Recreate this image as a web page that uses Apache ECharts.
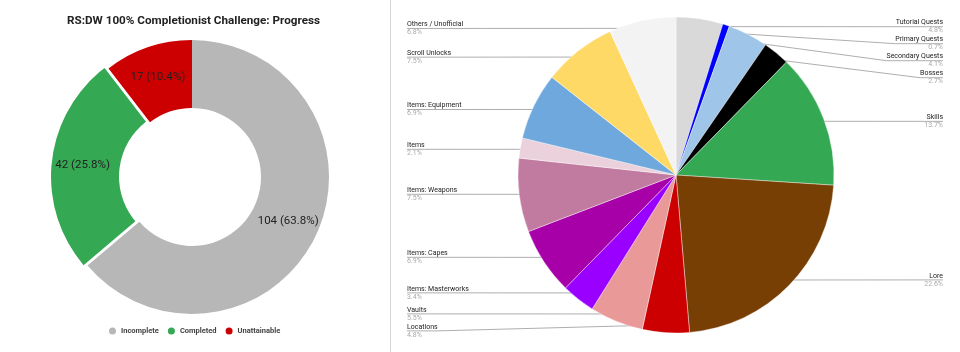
<!DOCTYPE html>
<html>
<head>
<meta charset="utf-8">
<script src="https://cdn.jsdelivr.net/npm/echarts@6/dist/echarts.min.js"></script>
<style>
  html, body { margin: 0; padding: 0; background: #fff; }
  #chart { width: 960px; height: 352px; }
</style>
</head>
<body>
<div id="chart"></div>
<script>
// left donut: overall progress
var progressNames = ['Incomplete', 'Completed', 'Unattainable'];
var progressValues = [104, 42, 17];
var progressColors = ['#b7b7b7', '#34a853', '#cc0000'];

// right pie: breakdown by category (counts, total 146)
var catNames = ['Tutorial Quests', 'Primary Quests', 'Secondary Quests', 'Bosses', 'Skills', 'Lore',
    'Locations', 'Vaults', 'Items: Masterworks', 'Items: Capes', 'Items: Weapons', 'Items',
    'Items: Equipment', 'Scroll Unlocks', 'Others / Unofficial'];
var catValues = [7, 1, 6, 4, 20, 33, 7, 8, 5, 10, 11, 3, 10, 11, 10];
var catColors = ['#d9d9d9', '#0000ff', '#9fc5e8', '#000000', '#34a853', '#783f04',
    '#cc0000', '#ea9999', '#9900ff', '#a800a8', '#c27ba0', '#ead1dc',
    '#6fa8dc', '#ffd966', '#f3f3f3'];

var chart = echarts.init(document.getElementById('chart'));

var pieCx = 676, pieCy = 175;

var progressData = [];
for (var i = 0; i < progressNames.length; i++) {
    progressData.push({
        name: progressNames[i],
        value: progressValues[i],
        selected: progressNames[i] == 'Completed',
        itemStyle: { color: progressColors[i] }
    });
}

var catData = [];
for (var j = 0; j < catNames.length; j++) {
    catData.push({
        name: catNames[j],
        value: catValues[j],
        itemStyle: { color: catColors[j] }
    });
}

var option = {
    backgroundColor: '#fff',
    animation: false,
    title: {
        text: 'RS:DW 100% Completionist Challenge: Progress',
        left: 62,
        top: 10,
        textStyle: {
            fontFamily: 'Roboto',
            fontSize: 11.7,
            fontWeight: 'bold',
            color: '#222'
        }
    },
    legend: {
        data: progressNames,
        left: 104,
        top: 322,
        icon: 'circle',
        itemWidth: 7,
        itemHeight: 7,
        itemGap: 9,
        textStyle: {
            fontFamily: 'Roboto',
            fontSize: 7.5,
            fontWeight: 'bold',
            color: '#444'
        }
    },
    graphic: [{
        type: 'line',
        shape: { x1: 390.5, y1: 0, x2: 390.5, y2: 352 },
        style: { stroke: '#d6d6d6', lineWidth: 1 }
    }],
    series: [{
            name: 'Progress',
            type: 'pie',
            center: [192, 177],
            radius: [69, 137],
            percentPrecision: 1,
            selectedMode: 'single',
            selectedOffset: 4,
            label: {
                position: 'inside',
                fontFamily: 'Roboto',
                fontSize: 11.5,
                color: '#222',
                formatter: function(p) {
                    return p.value + ' (' + p.percent.toFixed(1) + '%)';
                }
            },
            labelLine: { show: false },
            emphasis: { disabled: true },
            data: progressData
        },
        {
            name: 'Categories',
            type: 'pie',
            left: 390,
            width: 570,
            top: 0,
            height: 352,
            center: [pieCx - 390, pieCy],
            radius: 158,
            percentPrecision: 1,
            itemStyle: { borderColor: '#fff', borderWidth: 0.4 },
            label: {
                alignTo: 'edge',
                edgeDistance: 17,
                fontFamily: 'Roboto',
                formatter: function(p) {
                    return '{n|' + p.name + '}\n{p|' + p.percent.toFixed(1) + '%}';
                },
                rich: {
                    n: { fontFamily: 'Roboto', fontSize: 7, color: '#222', lineHeight: 8 },
                    p: { fontFamily: 'Roboto', fontSize: 7, color: '#aaa', lineHeight: 8 }
                }
            },
            labelLine: {
                length: -8,
                length2: 10,
                lineStyle: { color: '#999', width: 0.8 }
            },
            labelLayout: function(params) {
                var pts = params.labelLinePoints;
                var r = params.labelRect;
                if (!pts) return {};
                // start just inside the slice edge, run under the whole label text
                var inner = [pieCx + (pts[0][0] - pieCx) * 0.95, pieCy + (pts[0][1] - pieCy) * 0.95];
                var y = pts[pts.length - 1][1];
                var left = r.x + r.width / 2 < pieCx;
                var near = left ? r.x + r.width : r.x;
                var far = left ? r.x : r.x + r.width;
                return { labelLinePoints: [inner, [near, y], [far, y]] };
            },
            emphasis: { disabled: true },
            data: catData
        }
    ]
};

chart.setOption(option);
</script>
</body>
</html>
